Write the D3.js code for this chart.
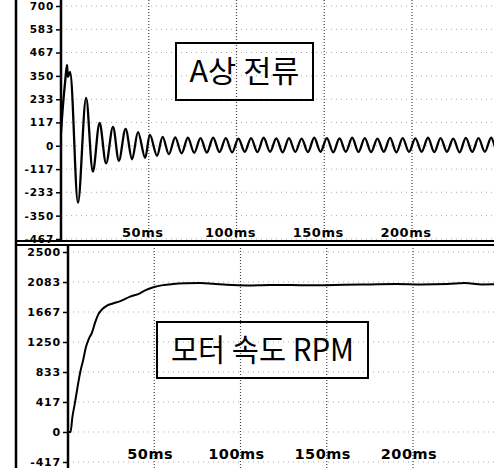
<!DOCTYPE html>
<html>
<head>
<meta charset="utf-8">
<script src="https://cdn.jsdelivr.net/npm/d3@7"></script>
<style>
  body { margin: 0; background: #fff; }
  svg { display: block; }
</style>
</head>
<body>
<script>
// tick labels
var currentTicks = [700, 583, 467, 350, 233, 117, 0, -117, -233, -350, -467];
var rpmTicks = [2500, 2083, 1667, 1250, 833, 417, 0, -417];
var timeTicks = [50, 100, 150, 200];
var timeLabels = ['50ms', '100ms', '150ms', '200ms'];

// A-phase current, read peak by peak (ms, A)
var currentTime = [0, 1.1, 2.3, 3.4, 4.0, 5.1, 9.7, 14.3, 18.2, 22.0, 25.7, 29.6, 33.0, 36.8, 40.5, 43.9, 47.9, 50.7, 54.7, 57.9,
    61.5, 65.1, 68.7, 72.3, 75.9, 79.5, 83.1, 86.7, 90.3, 93.9, 97.5, 101.1, 104.7, 108.3, 111.9, 115.5, 119.1, 122.7,
    126.3, 129.9, 133.5, 137.1, 140.7, 144.3, 147.9, 151.5, 155.1, 158.7, 162.3, 165.9, 169.5, 173.1, 176.7, 180.3,
    183.9, 187.5, 191.1, 194.7, 198.3, 201.9, 205.5, 209.1, 212.7, 216.3, 219.9, 223.5, 227.1, 230.7, 234.3, 237.9,
    241.5, 245.1, 248.7, 252.3];
var currentValue = [65, 200, 315, 405, 345, 370, -285, 240, -130, 115, -88, 95, -75, 85, -68, 68, -60, 55, -50, 45,
    -42, 42, -38, 40, -35, 38, -34, 40, -32, 38, -33, 36, -30, 38, -32, 40, -30, 37, -33, 38, -31, 36, -32, 40, -30,
    38, -33, 37, -30, 40, -31, 38, -32, 36, -30, 39, -33, 38, -31, 37, -30, 40, -32, 38, -30, 36, -33, 39, -31, 38,
    -30, 40, -32, 37];

// motor speed (ms, rpm)
var rpmTime = [0, 1.5, 2.5, 4, 5.5, 7, 8.8, 10.4, 12, 13.9, 15.7, 17.5, 19.6, 22.6, 26, 30, 36, 41.7, 45, 49.5, 55, 61, 68,
    76.5, 84, 92, 104, 117, 130, 145, 160, 175, 190, 205, 220, 230, 240, 250];
var rpmValue = [0, 0, 200, 400, 620, 820, 1000, 1180, 1290, 1380, 1520, 1630, 1700, 1755, 1785, 1815, 1880, 1926, 1970,
    2010, 2040, 2055, 2065, 2070, 2060, 2045, 2035, 2042, 2040, 2038, 2045, 2050, 2055, 2050, 2055, 2068, 2050, 2052];

var outerWidth = 494,
    outerHeight = 468;

var svg = d3.select('body').append('svg')
    .attr('width', outerWidth)
    .attr('height', outerHeight);

svg.append('rect')
    .attr('width', outerWidth)
    .attr('height', outerHeight)
    .attr('fill', '#fff');

var panels = [
    {
        name: 'cur', left: 61, top: 0, bottom: 241,
        y: d3.scaleLinear().domain([-467, 700]).range([239, 6]),
        x: d3.scaleLinear().domain([0, 200]).range([61, 412]),
        ticks: currentTicks, t: currentTime, v: currentValue,
        curve: d3.curveCatmullRom.alpha(0.5), lineWidth: 2.3,
        labelY: 237, labelSize: 13, labelShift: -6, tickSize: 10.5,
        title: 'A상 전류', box: [176, 43, 137, 57], titleLen: 110, titleSize: 30
    },
    {
        name: 'rpm', left: 68, top: 245, bottom: 468,
        y: d3.scaleLinear().domain([-417, 2500]).range([462, 252]),
        x: d3.scaleLinear().domain([0, 200]).range([68, 413]),
        ticks: rpmTicks, t: rpmTime, v: rpmValue,
        curve: d3.curveMonotoneX, lineWidth: 2,
        labelY: 459, labelSize: 14.5, labelShift: -4, tickSize: 11,
        title: '모터 속도 RPM', box: [157, 322, 211, 56], titleLen: 183, titleSize: 31
    }
];

panels.forEach(function(p) {
    var g = svg.append('g');

    g.append('clipPath')
        .attr('id', 'clip-' + p.name)
        .append('rect')
        .attr('x', p.left)
        .attr('y', p.top)
        .attr('width', outerWidth - p.left)
        .attr('height', p.bottom - p.top);

    // faint horizontal grid
    g.selectAll('.hgrid')
        .data(p.ticks)
        .enter()
        .append('line')
        .attr('x1', p.left)
        .attr('x2', outerWidth)
        .attr('y1', d => p.y(d))
        .attr('y2', d => p.y(d))
        .attr('stroke', '#aaa')
        .attr('stroke-width', 1)
        .attr('stroke-dasharray', '1,4');

    // vertical grid at each 50ms
    g.selectAll('.vgrid')
        .data(timeTicks)
        .enter()
        .append('line')
        .attr('x1', d => p.x(d))
        .attr('x2', d => p.x(d))
        .attr('y1', p.top)
        .attr('y2', p.bottom)
        .attr('stroke', '#444')
        .attr('stroke-width', 1.2)
        .attr('stroke-dasharray', '1,2');

    // title box
    g.append('rect')
        .attr('x', p.box[0])
        .attr('y', p.box[1])
        .attr('width', p.box[2])
        .attr('height', p.box[3])
        .attr('fill', 'none')
        .attr('stroke', '#000')
        .attr('stroke-width', 2);

    g.append('text')
        .attr('x', p.box[0] + p.box[2] / 2)
        .attr('y', p.box[1] + p.box[3] / 2 + p.titleSize * 0.36)
        .attr('text-anchor', 'middle')
        .attr('font-family', '"Noto Sans CJK KR", sans-serif')
        .attr('font-size', p.titleSize)
        .attr('textLength', p.titleLen)
        .attr('lengthAdjust', 'spacingAndGlyphs')
        .attr('fill', '#000')
        .text(p.title);

    // time labels
    g.selectAll('.tlabel')
        .data(timeTicks)
        .enter()
        .append('text')
        .attr('x', d => p.x(d) + p.labelShift)
        .attr('y', p.labelY)
        .attr('text-anchor', 'middle')
        .attr('font-family', '"DejaVu Sans", sans-serif')
        .attr('font-weight', 'bold')
        .attr('font-size', p.labelSize)
        .attr('letter-spacing', 0.5)
        .attr('fill', '#000')
        .text((d, i) => timeLabels[i]);

    // the trace
    var line = d3.line()
        .x((d, i) => p.x(p.t[i]))
        .y((d, i) => p.y(p.v[i]))
        .curve(p.curve);

    g.append('path')
        .datum(p.v)
        .attr('d', line)
        .attr('clip-path', 'url(#clip-' + p.name + ')')
        .attr('fill', 'none')
        .attr('stroke', '#000')
        .attr('stroke-width', p.lineWidth)
        .attr('stroke-linejoin', 'round');

    // y axis, plain hyphen for negatives as in the scan
    var axis = d3.axisLeft(p.y)
        .tickValues(p.ticks)
        .tickSize(5)
        .tickPadding(2)
        .tickFormat(d => String(d));

    var ax = g.append('g')
        .attr('transform', 'translate(' + p.left + ',0)')
        .call(axis);

    ax.select('.domain').remove();
    ax.selectAll('.tick line')
        .attr('stroke', '#000')
        .attr('stroke-width', 1.5);
    ax.selectAll('.tick text')
        .attr('font-family', '"DejaVu Sans", sans-serif')
        .attr('font-weight', 'bold')
        .attr('font-size', p.tickSize)
        .attr('letter-spacing', 0.8)
        .attr('fill', '#000');

    g.append('line')
        .attr('x1', p.left)
        .attr('x2', p.left)
        .attr('y1', p.top)
        .attr('y2', p.bottom)
        .attr('stroke', '#000')
        .attr('stroke-width', 2.5);
});

// outer frame: left edge and double separator
svg.append('line')
    .attr('x1', 16).attr('x2', 16)
    .attr('y1', 0).attr('y2', outerHeight)
    .attr('stroke', '#000')
    .attr('stroke-width', 2.5);

[241, 245].forEach(function(yy) {
    svg.append('line')
        .attr('x1', 15).attr('x2', outerWidth)
        .attr('y1', yy).attr('y2', yy)
        .attr('stroke', '#000')
        .attr('stroke-width', 2);
});
</script>
</body>
</html>
